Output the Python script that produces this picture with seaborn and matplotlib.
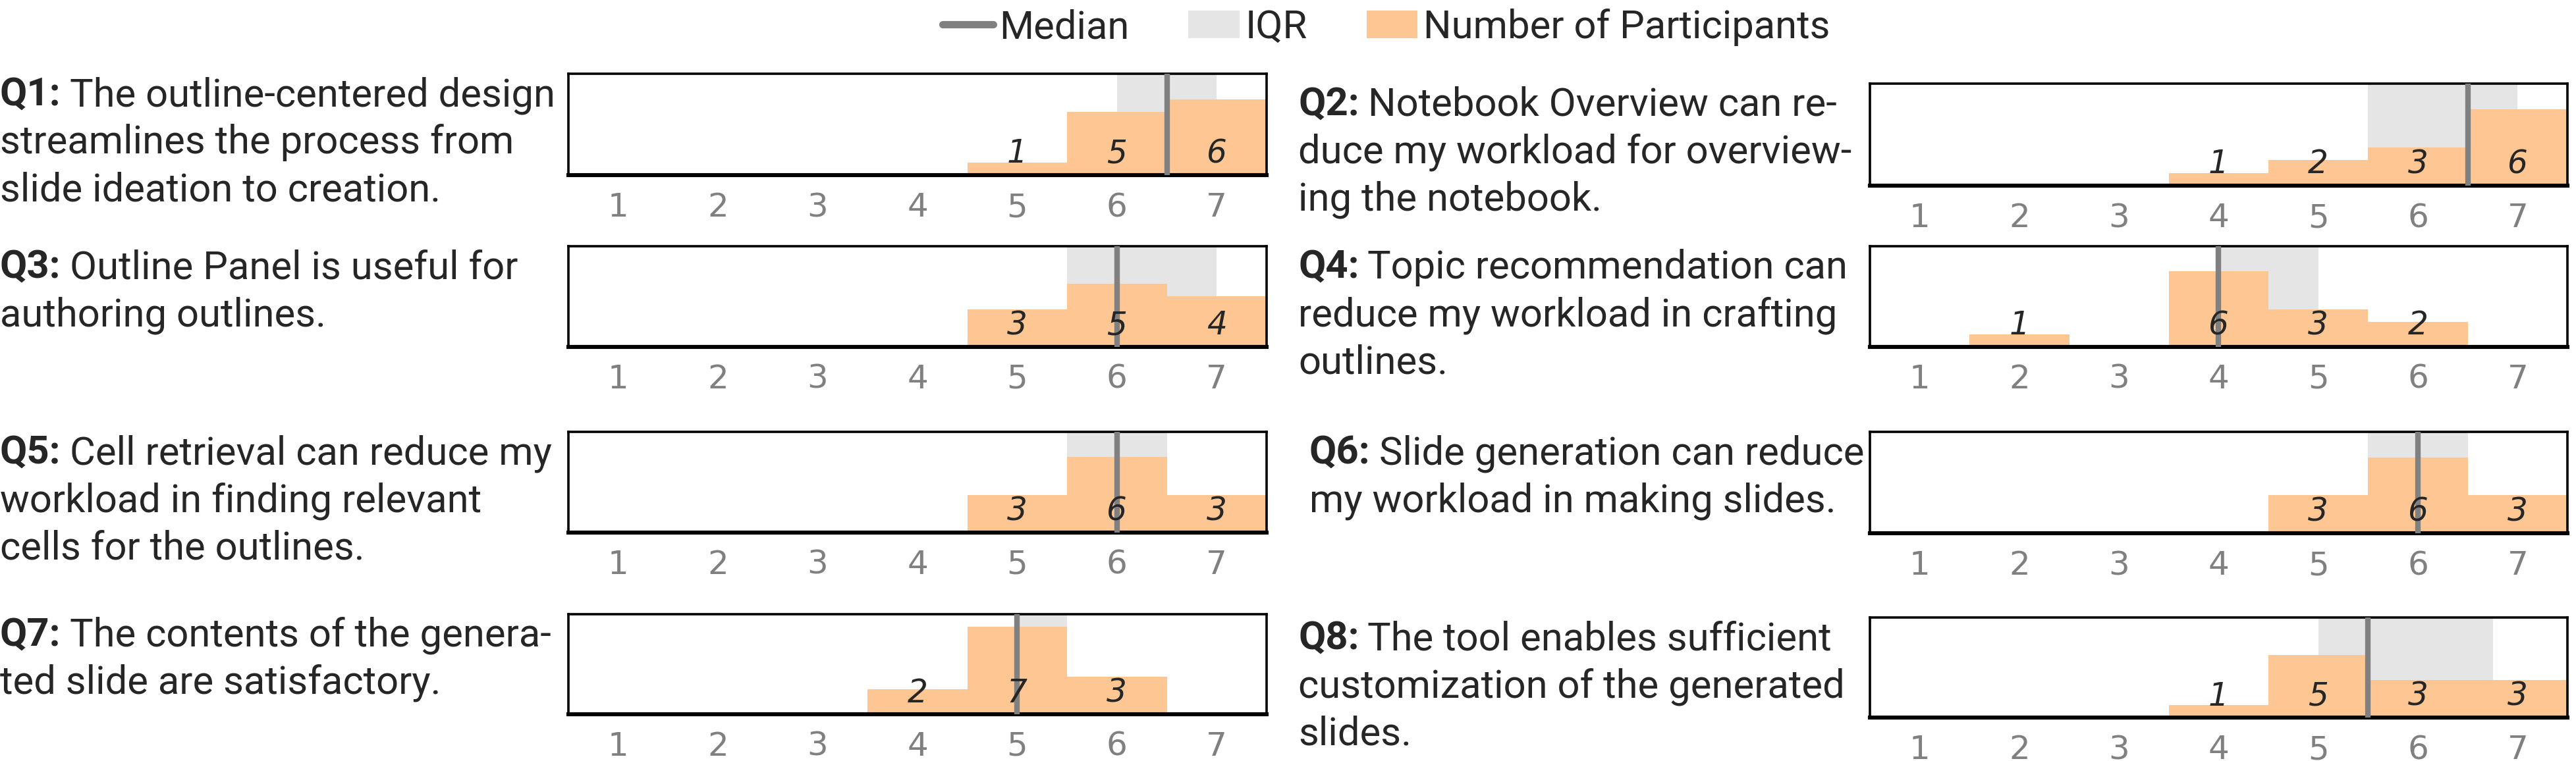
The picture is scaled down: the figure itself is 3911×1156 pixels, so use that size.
import matplotlib
matplotlib.use("Agg")
import matplotlib.pyplot as plt
import seaborn as sns
import pandas as pd
from matplotlib.lines import Line2D
from matplotlib.patches import Patch

# likert scale 1..7, counts per question (12 participants)
scale = [1, 2, 3, 4, 5, 6, 7]
q1_counts = [0, 0, 0, 0, 1, 5, 6]
q2_counts = [0, 0, 0, 1, 2, 3, 6]
q3_counts = [0, 0, 0, 0, 3, 5, 4]
q4_counts = [0, 1, 0, 6, 3, 2, 0]
q5_counts = [0, 0, 0, 0, 3, 6, 3]
q6_counts = [0, 0, 0, 0, 3, 6, 3]
q7_counts = [0, 0, 0, 2, 7, 3, 0]
q8_counts = [0, 0, 0, 1, 5, 3, 3]

# median and IQR
medians = [6.5, 6.5, 6.0, 4.0, 6.0, 6.0, 5.0, 5.5]
iqr_low = [6.0, 5.5, 5.5, 4.0, 5.5, 5.5, 5.0, 5.0]
iqr_high = [7.0, 7.0, 7.0, 5.0, 6.5, 6.5, 5.5, 6.75]

labels = ["Q1:", "Q2:", "Q3:", "Q4:", "Q5:", "Q6:", "Q7:", "Q8:"]
questions = [
    ["The outline-centered design", "streamlines the process from", "slide ideation to creation."],
    ["Notebook Overview can re-", "duce my workload for overview-", "ing the notebook."],
    ["Outline Panel is useful for", "authoring outlines."],
    ["Topic recommendation can", "reduce my workload in crafting", "outlines."],
    ["Cell retrieval can reduce my", "workload in finding relevant", "cells for the outlines."],
    ["Slide generation can reduce", "my workload in making slides."],
    ["The contents of the genera-", "ted slide are satisfactory."],
    ["The tool enables sufficient", "customization of the generated", "slides."],
]
all_counts = [q1_counts, q2_counts, q3_counts, q4_counts,
              q5_counts, q6_counts, q7_counts, q8_counts]

BAR = "#fdc692"
IQR = "#e5e5e5"
MED = "#808080"

sns.set_style("white")
plt.rcParams["font.family"] = ["Roboto", "DejaVu Sans"]

W, H = 3912, 1156
fig = plt.figure(figsize=(W / 200, H / 200), dpi=200)

# axes boxes in pixels: (left, top, right, bottom)
boxes = [
    (863, 112, 1923, 266), (2839, 127, 3898, 282),
    (863, 374, 1923, 527), (2839, 374, 3898, 527),
    (863, 656, 1923, 809), (2839, 656, 3898, 810),
    (863, 933, 1923, 1085), (2839, 938, 3898, 1090),
]
text_x = [0, 1971, 0, 1971, 0, 1988, 0, 1971]

renderer = fig.canvas.get_renderer()
line_h = 72
qsize = 21.5

for i, counts in enumerate(all_counts):
    l, t, r, b = boxes[i]
    ax = fig.add_axes([l / W, 1 - b / H, (r - l) / W, (b - t) / H])
    df = pd.DataFrame({"score": scale, "count": counts})
    ax.axvspan(iqr_low[i], iqr_high[i], color=IQR, lw=0, zorder=0)
    sns.barplot(data=df, x="score", y="count", native_scale=True, width=1,
                color=BAR, saturation=1, linewidth=0, ax=ax, zorder=2)
    ax.axvline(medians[i], color=MED, lw=3, zorder=3)
    for s, c in zip(scale, counts):
        if c > 0:
            ax.text(s, 1.7, str(c), ha="center", va="center", style="italic",
                    fontsize=17.5, family="DejaVu Sans", zorder=4)
    ax.set_xlim(0.5, 7.5)
    ax.set_ylim(0, 8)
    ax.set_xticks(scale)
    ax.set_xticklabels([str(s) for s in scale], family="DejaVu Sans",
                       fontsize=18, color=MED)
    ax.set_yticks([])
    ax.set_xlabel("")
    ax.set_ylabel("")
    ax.tick_params(axis="x", length=0, pad=9)
    for sp in ax.spines.values():
        sp.set_visible(True)
        sp.set_color("black")
        sp.set_linewidth(1.3)
    ax.spines["bottom"].set_linewidth(2.2)

    # question text, bold label then rest of first line
    x0 = text_x[i] / W
    y0 = 1 - (t + 4) / H
    lab = fig.text(x0, y0, labels[i], weight="bold", fontsize=qsize, va="top")
    ext = lab.get_window_extent(renderer)
    fig.text(x0 + (ext.width + 13) / W, y0, questions[i][0], fontsize=qsize, va="top")
    for k, line in enumerate(questions[i][1:], start=1):
        fig.text(x0, y0 - k * line_h / H, line, fontsize=qsize, va="top")

handles = [Line2D([0], [0], color=MED, lw=4),
           Patch(facecolor=IQR, edgecolor="none"),
           Patch(facecolor=BAR, edgecolor="none")]
fig.legend(handles, ["Median", "IQR", "Number of Participants"],
           loc="upper center", bbox_to_anchor=(0.538, 1.035), ncol=3,
           frameon=False, fontsize=qsize, handlelength=1.3, handletextpad=0.15,
           columnspacing=1.5)

fig.savefig("out.png", dpi=200)
